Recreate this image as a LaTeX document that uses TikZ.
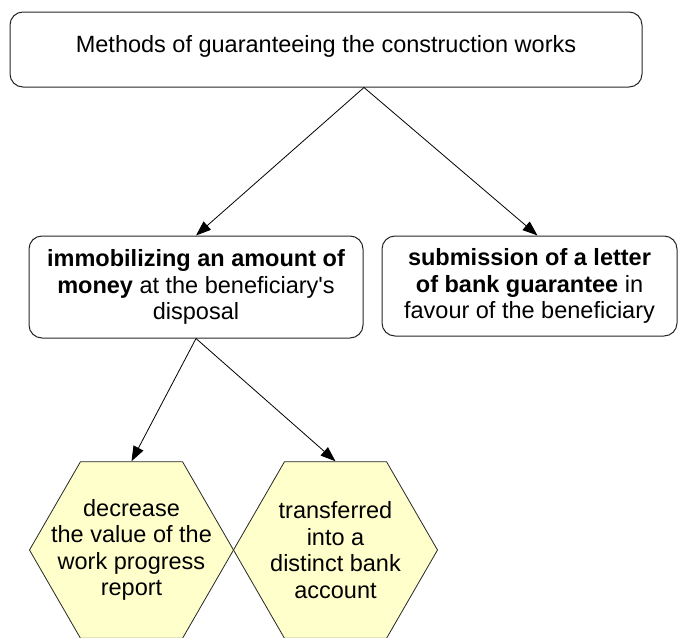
\documentclass[tikz,border=0pt]{standalone}
\usepackage{fontspec}
\setmainfont{Liberation Sans}[Ligatures=TeXOff]
\usetikzlibrary{shapes.geometric,arrows.meta}
\definecolor{hexfill}{RGB}{255,255,204}
\begin{document}
\begin{tikzpicture}[x=1pt,y=-1pt]
\tikzset{
round box/.style={draw=black!85,line width=1pt,rounded corners=13pt,align=center,inner sep=0pt,font=\fontsize{23.5}{26.5}\selectfont},
hex node/.style={regular polygon,regular polygon sides=6,draw=black!85,line width=0.8pt,fill=hexfill,minimum size=204pt,inner sep=0pt,
  label={[align=center,font=\fontsize{23.5}{26.5}\selectfont]center:#1}},
link/.style={-{Triangle[length=15pt,width=11pt]},line width=0.8pt}
}
\useasboundingbox (0,0) rectangle (685,637);
\clip (0,0) rectangle (685,637);

\node(methods)[round box,minimum width=632pt,minimum height=75pt,text height=17pt,text depth=12pt] at (326,49.5) {Methods of guaranteeing the construction works};
\node(money)[round box,minimum width=334pt,minimum height=102pt] at (196,287) {\textbf{immobilizing an amount of}\\ \textbf{money} at the beneficiary's\\ disposal};
\node(letter)[round box,minimum width=295pt,minimum height=100pt] at (529.5,286) {\textbf{submission of a letter}\\ \textbf{of bank guarantee} in\\ favour of the beneficiary};
\node(decrease)[hex node={decrease\\the value of the\\work progress\\report}] at (131.5,550) {};
\node(transfer)[hex node={transferred\\into a\\distinct bank\\account}] at (335.5,550) {};

\coordinate (split) at ([xshift=38pt]methods.south);
\draw[link] (split) -- (money.north);
\draw[link] (split) -- ([xshift=8pt]letter.north);
\draw[link] (money.south) -- (decrease.north);
\draw[link] (money.south) -- (transfer.north);
\end{tikzpicture}
\end{document}
